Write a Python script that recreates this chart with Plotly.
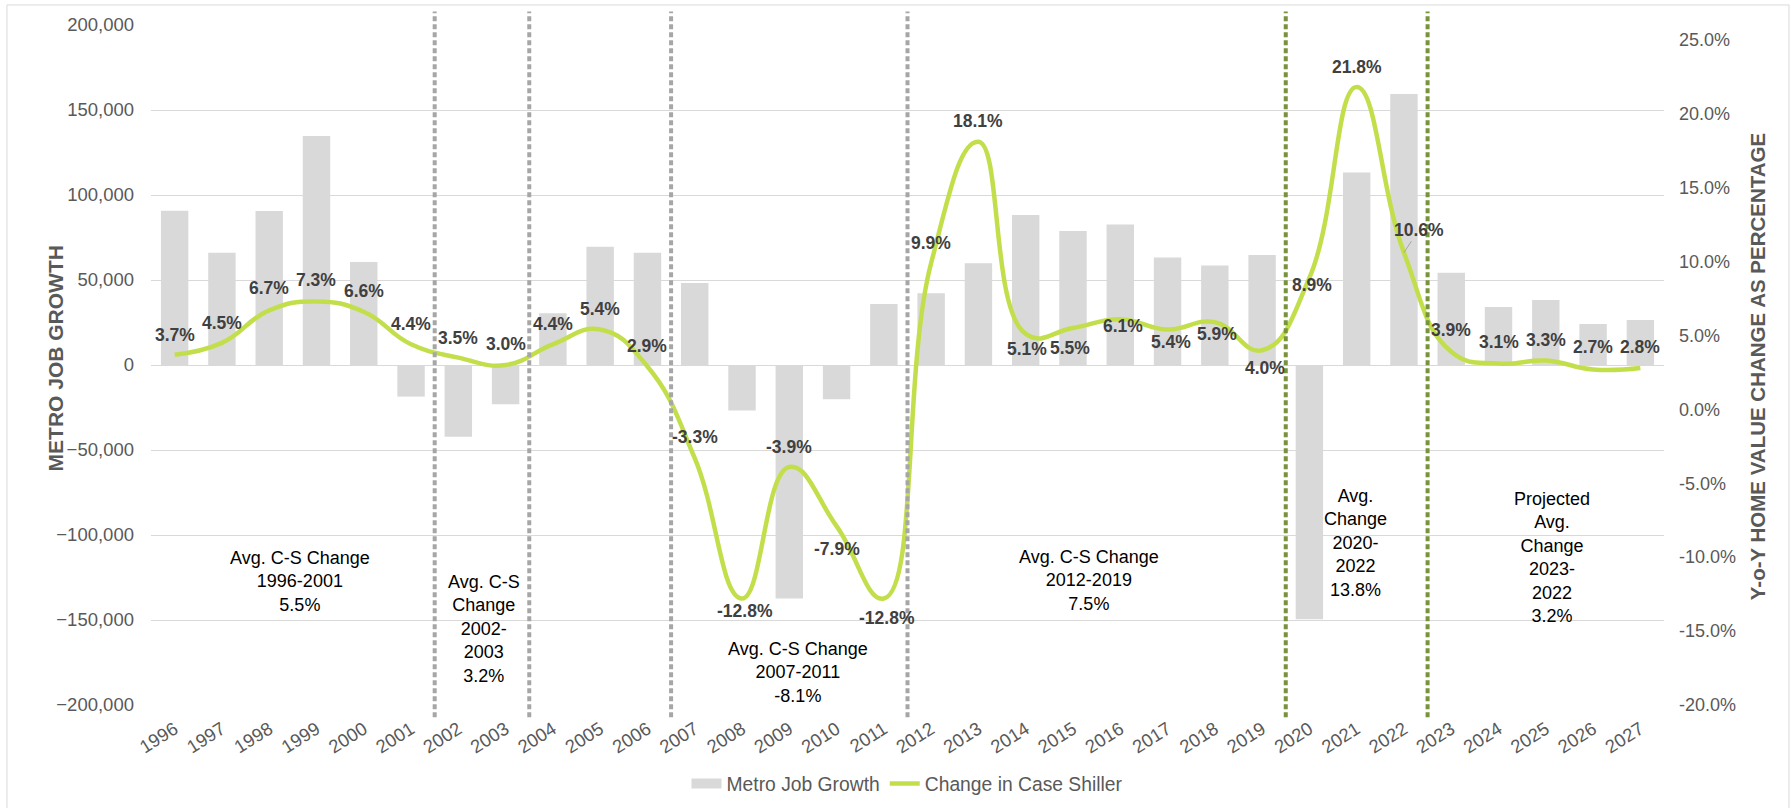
import plotly.graph_objects as go

# ---- data ----
years = list(range(1996, 2028))
job_growth = [90800, 66100, 90600, 134700, 60600, -18600, -42200, -23100,
              30400, 69600, 66100, 48200, -26700, -137300, -20200, 35900,
              42200, 59800, 88200, 78800, 82700, 63300, 58600, 64700,
              -149600, 113300, 159400, 54300, 34100, 38200, 24100, 26500]
case_shiller = [3.7, 4.5, 6.7, 7.3, 6.6, 4.4, 3.5, 3.0, 4.4, 5.4, 2.9, -3.3,
                -12.8, -3.9, -7.9, -12.8, 9.9, 18.1, 5.1, 5.5, 6.1, 5.4, 5.9,
                4.0, 8.9, 21.8, 10.6, 3.9, 3.1, 3.3, 2.7, 2.8]
left_ticks = [-200000, -150000, -100000, -50000, 0, 50000, 100000, 150000, 200000]
right_ticks = [-20, -15, -10, -5, 0, 5, 10, 15, 20, 25]

period_breaks_gray = [2001.5, 2003.5, 2006.5, 2011.5]
period_breaks_green = [2019.5, 2022.5]

period_notes = [
    "Avg. C-S Change<br>1996-2001<br>5.5%",
    "Avg. C-S<br>Change<br>2002-<br>2003<br>3.2%",
    "Avg. C-S Change<br>2007-2011<br>-8.1%",
    "Avg. C-S Change<br>2012-2019<br>7.5%",
    "Avg.<br>Change<br>2020-<br>2022<br>13.8%",
    "Projected<br>Avg.<br>Change<br>2023-<br>2022<br>3.2%",
]

# ---- placement / styling ----
note_pos = [(1998.65, -127500), (2002.54, -155500), (2009.18, -181000),
            (2015.33, -126500), (2020.97, -104800), (2025.13, -113000)]
# pixel offsets (x, y) of each value label relative to its point;
# None marks the label drawn with a leader line
label_shift = [(0, 20), (0, 20), (0, 22), (0, 21), (0, 21), (0, 20), (0, 20),
               (0, 21), (0, 20), (0, 21), (0, 20), (0, 21), (3, -12), (0, 20),
               (0, -23), (3, -19), (0, 20), (0, 21), (1, -15), (-3, -20),
               (3, -7), (3, -12), (2, -12), (3, -18), (3, -7), (0, 20),
               None, (0, 22), (0, 22), (0, 21), (0, 22), (0, 21)]

FONT = "Liberation Sans, Arial, sans-serif"
AXIS_GREY = "#595959"
GRID = "#D9D9D9"
BAR_GREY = "#D9D9D9"
LIME = "#C2DF4B"
LABEL_FONT = dict(family=FONT, size=17.5, color="#404040")

fig = go.Figure()
fig.add_trace(go.Bar(
    x=years, y=job_growth, name="Metro Job Growth",
    marker=dict(color=BAR_GREY, line=dict(width=0)), width=0.58,
    yaxis="y", showlegend=False,
))
# legend key for the bars: a wide flat swatch
fig.add_trace(go.Scatter(
    x=[None], y=[None], name="Metro Job Growth", mode="lines",
    line=dict(color=BAR_GREY, width=10), yaxis="y",
))
fig.add_trace(go.Scatter(
    x=years, y=case_shiller, name="Change in Case Shiller", mode="lines",
    line=dict(color=LIME, width=4.5, shape="spline", smoothing=1.3),
    yaxis="y2",
))

annotations = []
for yr, v, sh in zip(years, case_shiller, label_shift):
    txt = f"<b>{v:.1f}%</b>"
    if sh is None:
        annotations.append(dict(
            x=yr, y=v, xref="x", yref="y2", text=txt, showarrow=True,
            arrowhead=0, arrowwidth=1, arrowcolor="#A6A6A6", standoff=0,
            ax=15, ay=-23, font=LABEL_FONT,
        ))
    else:
        annotations.append(dict(
            x=yr, y=v, xref="x", yref="y2", text=txt, showarrow=False,
            xshift=sh[0], yshift=sh[1], font=LABEL_FONT,
        ))

for note, (nx, ny) in zip(period_notes, note_pos):
    annotations.append(dict(
        x=nx, y=ny, xref="x", yref="y", text=note, showarrow=False,
        align="center", font=dict(family=FONT, size=18, color="#000000"),
    ))

# axis titles
annotations.append(dict(
    x=-0.072, y=0.509, xref="paper", yref="paper", text="<b>METRO JOB GROWTH</b>",
    textangle=-90, showarrow=False, font=dict(family=FONT, size=21, color=AXIS_GREY),
))
annotations.append(dict(
    x=1.0705, y=0.497, xref="paper", yref="paper",
    text="<b>Y-o-Y HOME VALUE CHANGE AS PERCENTAGE</b>",
    textangle=-90, showarrow=False, font=dict(family=FONT, size=20.5, color=AXIS_GREY),
))

shapes = []
for xb in period_breaks_gray:
    shapes.append(dict(type="line", xref="x", yref="paper", x0=xb, x1=xb,
                       y0=-0.018, y1=1.02,
                       line=dict(color="#A6A6A6", width=4, dash="5px,3px")))
for xb in period_breaks_green:
    shapes.append(dict(type="line", xref="x", yref="paper", x0=xb, x1=xb,
                       y0=-0.018, y1=1.02,
                       line=dict(color="#77933C", width=4, dash="5px,3px")))
# chart frame (bottom edge sits at the page edge)
shapes.append(dict(type="rect", xref="paper", yref="paper",
                   x0=-0.0952, x1=1.0826, y0=-0.153, y1=1.0295,
                   line=dict(color="#D9D9D9", width=1), layer="below"))

fig.update_layout(
    width=1791, height=808,
    margin=dict(l=151, r=127, t=25, b=103, autoexpand=False),
    paper_bgcolor="white", plot_bgcolor="white",
    font=dict(family=FONT, size=18, color=AXIS_GREY),
    bargap=0.42,
    showlegend=True,
    legend=dict(orientation="h", x=0.5, xanchor="center",
                yref="container", y=0.0297, yanchor="middle",
                font=dict(family=FONT, size=19.3, color=AXIS_GREY),
                traceorder="normal", itemwidth=30),
    xaxis=dict(
        range=[1995.5, 2027.5], tickmode="array", tickvals=years,
        ticktext=[str(y) for y in years], tickangle=-32,
        showgrid=False, zeroline=False, showline=False, ticks="",
        ticklabelstandoff=9, automargin=False,
        tickfont=dict(family=FONT, size=18.5, color=AXIS_GREY),
    ),
    yaxis=dict(
        range=[-200000, 200000], tickmode="array", tickvals=left_ticks,
        tickformat=",", showgrid=True, gridcolor=GRID, gridwidth=1.3,
        zeroline=True, zerolinecolor=GRID, zerolinewidth=1.3,
        showline=False, ticks="", ticklabelstandoff=16, automargin=False,
        tickfont=dict(family=FONT, size=18.5, color=AXIS_GREY),
    ),
    yaxis2=dict(
        range=[-20, 26], overlaying="y", side="right", tickmode="array",
        tickvals=right_ticks, ticktext=[f"{t:.1f}%" for t in right_ticks],
        showgrid=False, zeroline=False, showline=False, ticks="",
        ticklabelstandoff=14, automargin=False,
        tickfont=dict(family=FONT, size=18, color=AXIS_GREY),
    ),
    annotations=annotations,
    shapes=shapes,
)

fig.write_html("out.html")
